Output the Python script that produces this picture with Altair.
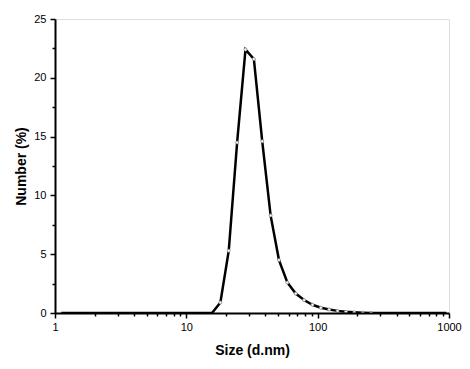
import altair as alt
import pandas as pd

# Zetasizer size bins (d.nm) within 1-1000
sizes = [1.117, 1.294, 1.499, 1.736, 2.01, 2.328, 2.696, 3.122, 3.615, 4.187,
         4.849, 5.615, 6.503, 7.531, 8.721, 10.1, 11.7, 13.54, 15.69, 18.17,
         21.04, 24.36, 28.21, 32.67, 37.84, 43.82, 50.75, 58.77, 68.06, 78.82,
         91.28, 105.7, 122.4, 141.8, 164.2, 190.1, 220.2, 255.0, 295.3, 342.0,
         396.1, 458.7, 531.2, 615.1, 712.4, 825.0, 955.4]
number = [0, 0, 0, 0, 0, 0, 0, 0, 0, 0,
          0, 0, 0, 0, 0, 0, 0, 0, 0, 0.9,
          5.3, 14.5, 22.4, 21.6, 14.6, 8.3, 4.5, 2.6, 1.65, 1.1,
          0.7, 0.45, 0.3, 0.18, 0.1, 0.06, 0.03, 0.01, 0, 0,
          0, 0, 0, 0, 0, 0, 0]

x_ticks = [1, 2, 3, 4, 5, 6, 7, 8, 9, 10, 20, 30, 40, 50, 60, 70, 80, 90,
           100, 200, 300, 400, 500, 600, 700, 800, 900, 1000]
x_major = [1, 10, 100, 1000]
y_ticks = [0, 2.5, 5, 7.5, 10, 12.5, 15, 17.5, 20, 22.5, 25]
y_major = [0, 5, 10, 15, 20, 25]

df = pd.DataFrame({"size": sizes, "number": number})

FONT = "Liberation Sans"

x_axis = alt.Axis(
    values=x_ticks,
    format="d",
    labelExpr=f"indexof({x_major}, datum.value) >= 0 ? datum.label : ''",
    tickSize={"condition": {"test": f"indexof({x_major}, datum.value) >= 0", "value": 5}, "value": 3},
    tickColor="black", tickWidth=1.5,
    domainColor="black", domainWidth=2,
    grid=False, labelFont=FONT, labelFontSize=11, labelColor="black",
    labelPadding=3, labelFlush=False,
    title="Size (d.nm)", titleFont=FONT, titleFontSize=14, titleFontWeight="bold",
    titleColor="black", titlePadding=11, zindex=1,
)
y_axis = alt.Axis(
    values=y_ticks,
    labelExpr=f"indexof({y_major}, datum.value) >= 0 ? datum.label : ''",
    tickSize={"condition": {"test": f"indexof({y_major}, datum.value) >= 0", "value": 5}, "value": 3},
    tickColor="black", tickWidth=1.5,
    domainColor="black", domainWidth=2,
    grid=False, labelFont=FONT, labelFontSize=11, labelColor="black",
    labelPadding=4,
    title="Number (%)", titleFont=FONT, titleFontSize=14, titleFontWeight="bold",
    titleColor="black", titlePadding=5, zindex=1,
)

x_enc = alt.X("size:Q", scale=alt.Scale(type="log", domain=[1, 1000], nice=False), axis=x_axis)
y_enc = alt.Y("number:Q", scale=alt.Scale(domain=[0, 25], nice=False), axis=y_axis)

line = alt.Chart(df).mark_line(color="black", strokeWidth=2.5, clip=True).encode(x=x_enc, y=y_enc)
pts = alt.Chart(df).transform_filter("datum.number > 0").mark_point(
    filled=True, fill="white", stroke="#888888",
    strokeWidth=0.8, size=9, opacity=1, clip=True).encode(x=x_enc, y=y_enc)

chart = (line + pts).properties(
    width=394, height=294,
    autosize=alt.AutoSizeParams(type="none"),
    padding={"left": 47, "top": 11, "right": 13, "bottom": 48},
).configure_view(stroke=None).configure(background="white")

chart.save("out.html", embed_options={"renderer": "svg", "actions": False})
